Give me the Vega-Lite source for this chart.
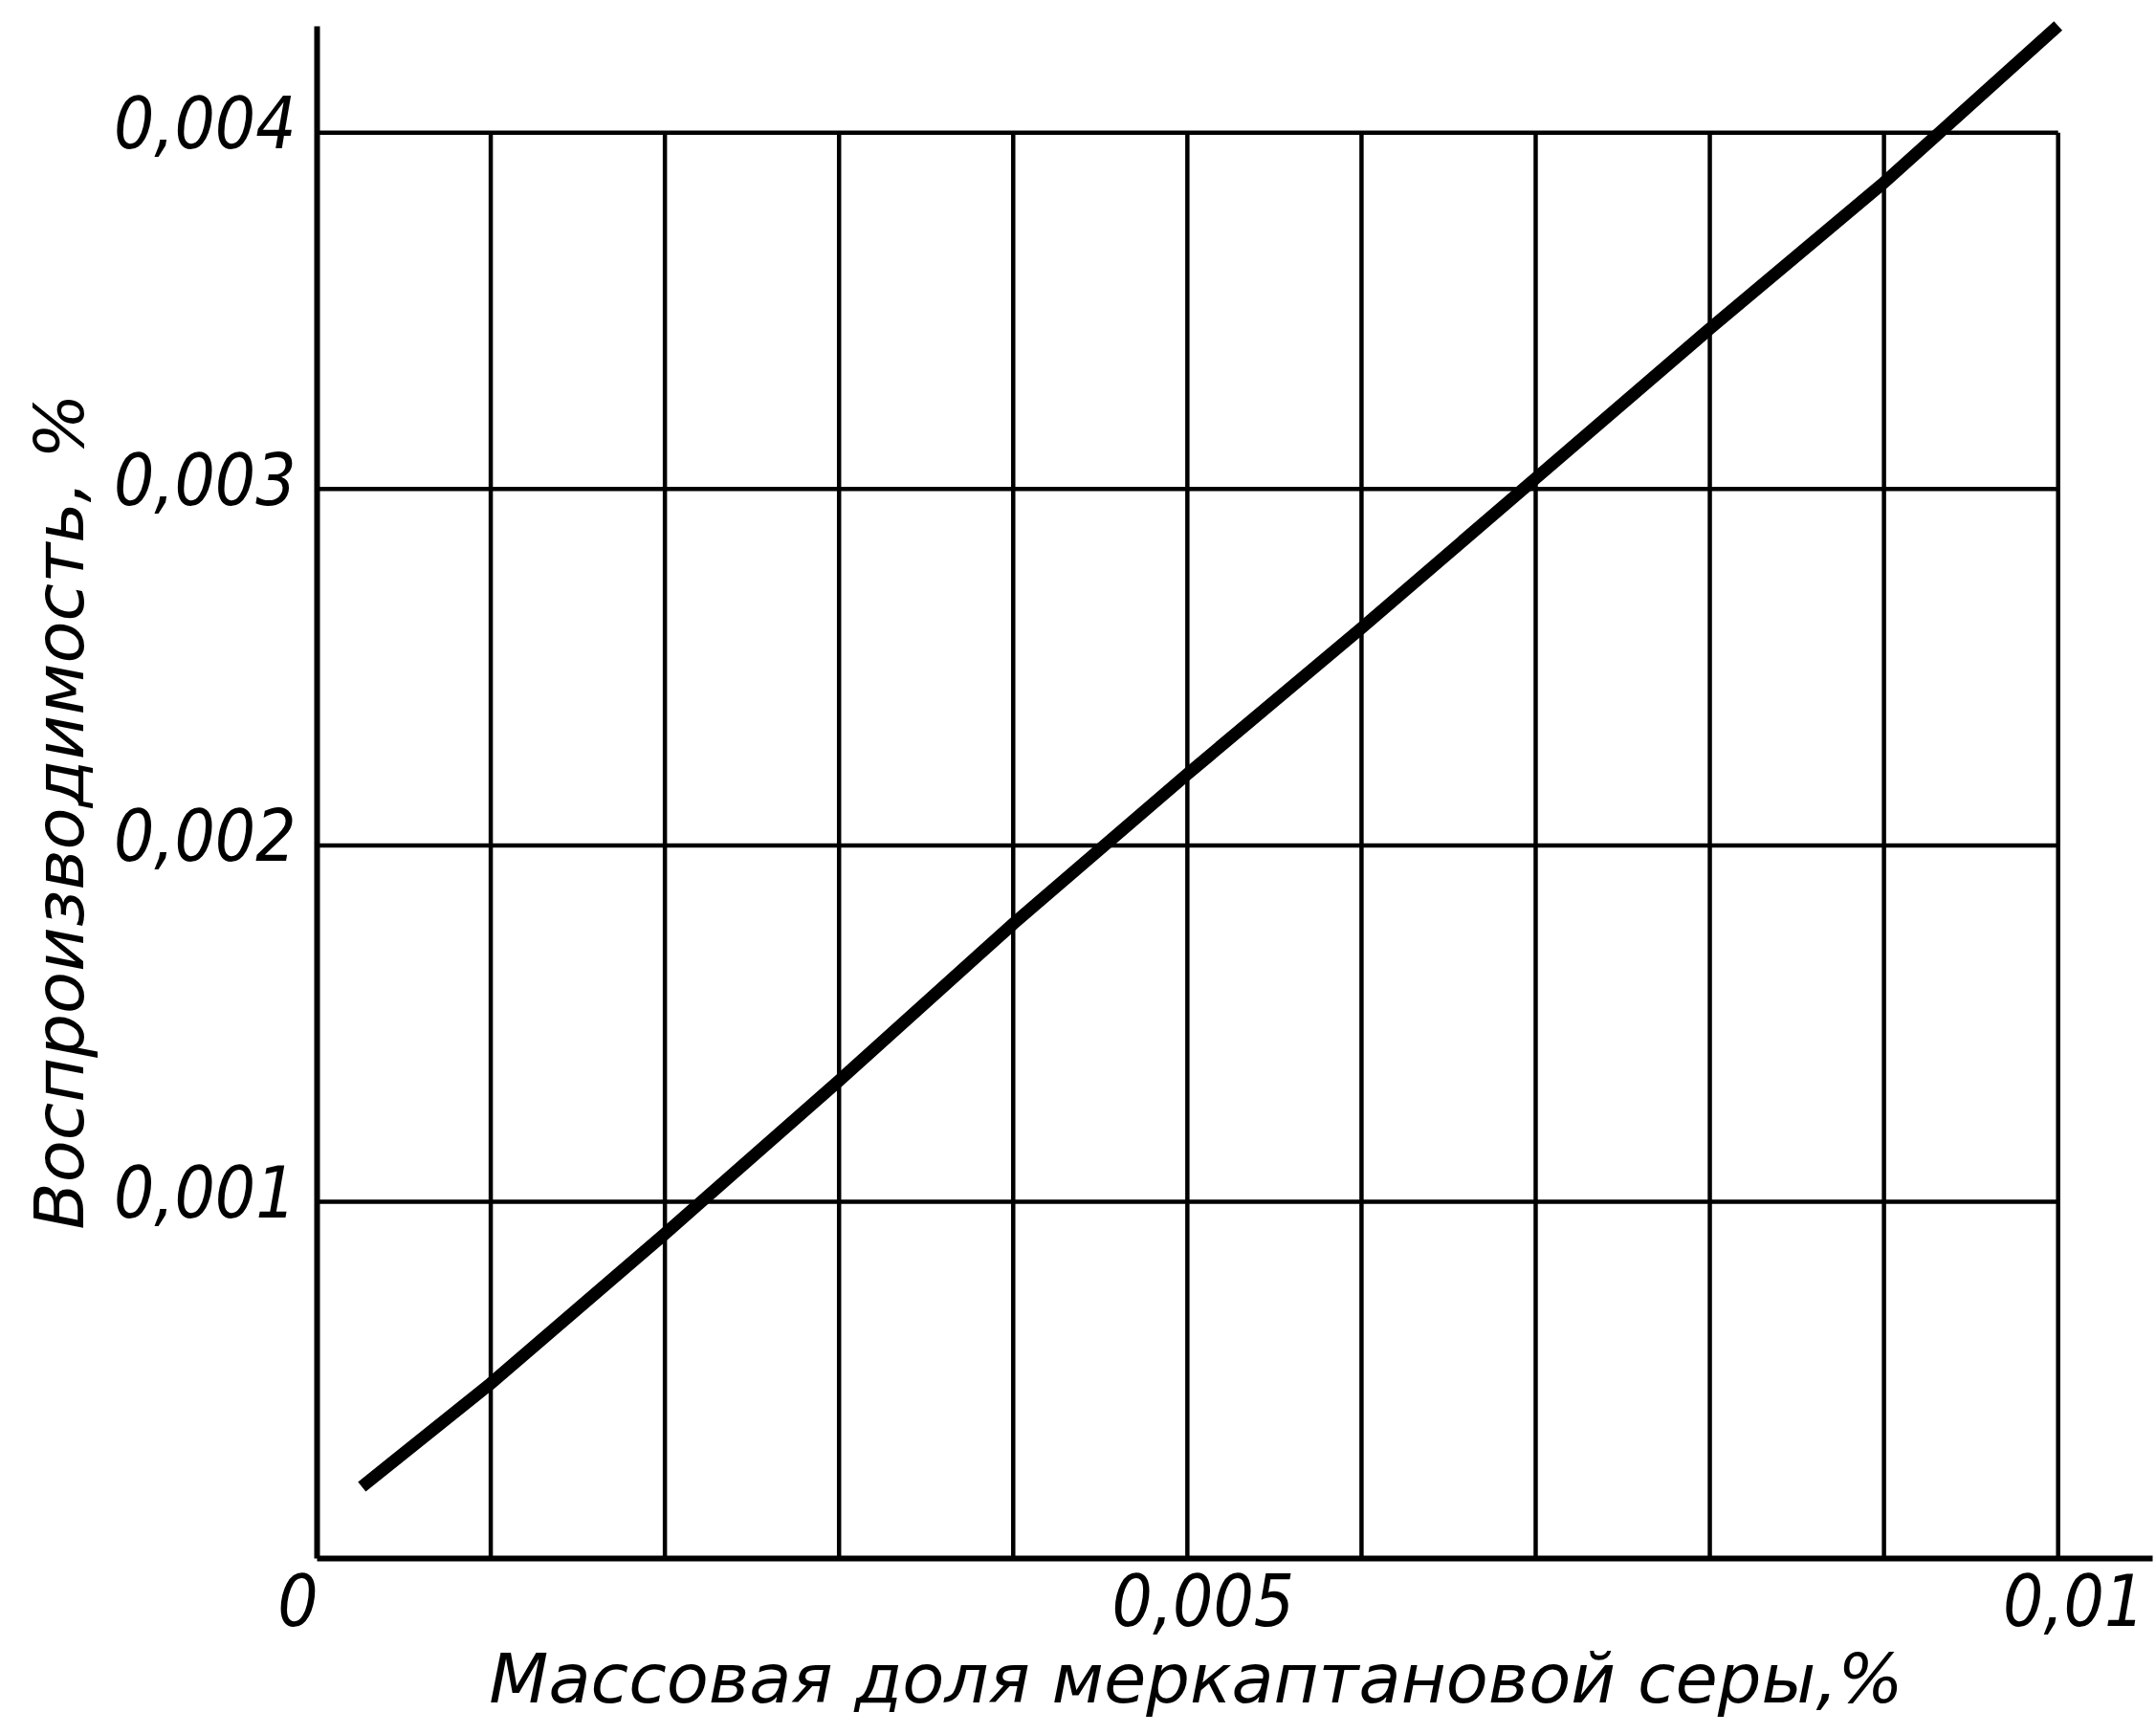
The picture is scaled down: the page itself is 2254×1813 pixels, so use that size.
{
  "$schema": "https://vega.github.io/schema/vega-lite/v6.json",
  "width": 1919,
  "height": 1602,
  "autosize": "none",
  "padding": {"left": 331, "top": 27, "right": 4, "bottom": 184},
  "background": "white",
  "config": {"view": {"stroke": null}, "font": "DejaVu Sans"},
  "datasets": {
    "grid": [
      {"x": 0.001, "x2": 0.001, "y": 0, "y2": 0.004},
      {"x": 0.002, "x2": 0.002, "y": 0, "y2": 0.004},
      {"x": 0.003, "x2": 0.003, "y": 0, "y2": 0.004},
      {"x": 0.004, "x2": 0.004, "y": 0, "y2": 0.004},
      {"x": 0.005, "x2": 0.005, "y": 0, "y2": 0.004},
      {"x": 0.006, "x2": 0.006, "y": 0, "y2": 0.004},
      {"x": 0.007, "x2": 0.007, "y": 0, "y2": 0.004},
      {"x": 0.008, "x2": 0.008, "y": 0, "y2": 0.004},
      {"x": 0.009, "x2": 0.009, "y": 0, "y2": 0.004},
      {"x": 0.01, "x2": 0.01, "y": 0, "y2": 0.004},
      {"x": 0, "x2": 0.01, "y": 0.001, "y2": 0.001},
      {"x": 0, "x2": 0.01, "y": 0.002, "y2": 0.002},
      {"x": 0, "x2": 0.01, "y": 0.003, "y2": 0.003},
      {"x": 0, "x2": 0.01, "y": 0.004, "y2": 0.004}
    ],
    "curve": [
      {"x": 0.00026, "y": 0.0002},
      {"x": 0.001, "y": 0.00049},
      {"x": 0.002, "y": 0.00091},
      {"x": 0.003, "y": 0.00134},
      {"x": 0.004, "y": 0.00178},
      {"x": 0.005, "y": 0.0022},
      {"x": 0.006, "y": 0.00261},
      {"x": 0.007, "y": 0.00303},
      {"x": 0.008, "y": 0.00345},
      {"x": 0.009, "y": 0.00386},
      {"x": 0.0100, "y": 0.0043}
    ]
  },
  "encoding": {
    "x": {
      "field": "x",
      "type": "quantitative",
      "scale": {"domain": [0, 0.01054], "nice": false, "zero": false},
      "axis": {
        "values": [0, 0.005, 0.01],
        "labelExpr": "replace(format(datum.value, '~g'), '.', ',')",
        "grid": false,
        "ticks": false,
        "domainColor": "black",
        "domainWidth": 6,
        "labelFont": "DejaVu Sans Condensed",
        "labelFontSize": 74,
        "labelFontStyle": "italic",
        "labelColor": "black",
        "labelPadding": 12,
        "labelLimit": 0,
        "labelFlush": false,
        "labelOverlap": false,
        "labelOffset": {"condition": {"test": "datum.value == 0", "value": -20}, "value": 16},
        "title": "Массовая доля меркаптановой серы,%",
        "titleFont": "DejaVu Sans",
        "titleFontSize": 72,
        "titleFontStyle": "italic",
        "titleFontWeight": "normal",
        "titleColor": "black",
        "titlePadding": 8,
        "titleX": 919
      }
    },
    "y": {
      "field": "y",
      "type": "quantitative",
      "scale": {"domain": [0, 0.0043], "nice": false, "zero": false},
      "axis": {
        "values": [0.001, 0.002, 0.003, 0.004],
        "labelExpr": "replace(format(datum.value, '~g'), '.', ',')",
        "grid": false,
        "ticks": false,
        "domainColor": "black",
        "domainWidth": 6,
        "labelFont": "DejaVu Sans Condensed",
        "labelFontSize": 74,
        "labelFontStyle": "italic",
        "labelColor": "black",
        "labelPadding": 22,
        "labelOffset": -6,
        "labelLimit": 0,
        "labelFlush": false,
        "labelOverlap": false,
        "title": "Воспроизводимость, %",
        "titleFont": "DejaVu Sans",
        "titleFontSize": 72,
        "titleFontStyle": "italic",
        "titleFontWeight": "normal",
        "titleColor": "black",
        "titlePadding": 30,
        "titleY": 821
      }
    }
  },
  "layer": [
    {
      "data": {"name": "grid"},
      "mark": {"type": "rule", "stroke": "black", "strokeWidth": 4.5},
      "encoding": {"x2": {"field": "x2"}, "y2": {"field": "y2"}}
    },
    {
      "data": {"name": "curve"},
      "mark": {"type": "line", "stroke": "black", "strokeWidth": 13, "strokeCap": "butt"},
      "encoding": {}
    }
  ]
}
